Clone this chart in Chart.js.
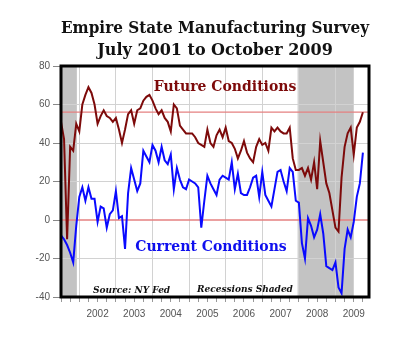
<!DOCTYPE html>
<html><head><meta charset="utf-8">
<script src="https://cdn.jsdelivr.net/npm/chart.js@4.4.0/dist/chart.umd.min.js"></script>
<style>html,body{margin:0;padding:0;background:#fff}</style>
</head><body>
<canvas id="c" width="400" height="352"></canvas>
<script>
// Monthly index: 0 = July 2001 ... 99 = October 2009
const titleLines = ['Empire State Manufacturing Survey', 'July 2001 to October 2009'];
const future = [
  51, 42, -10, 38, 36, 50, 46, 60, 65, 69, 66, 60,
  50, 54, 57, 54, 53, 51, 53, 47, 40, 47, 55, 57,
  50, 57, 58, 62, 64, 65, 62, 58, 55, 57, 53, 51,
  46, 60, 58, 49, 47, 45, 45, 45, 43, 40, 39, 38,
  47, 40, 38, 44, 47, 43, 48, 41, 40, 37, 32, 36,
  41, 35, 32, 30, 38, 42, 39, 40, 36, 48, 46, 48,
  46, 45, 45, 48, 32, 26, 26, 27, 23, 27, 21, 30,
  16, 41, 30, 19, 14, 5, -4, -6, 22, 38, 45, 48,
  34, 48, 51, 56
];
const current = [
  -8, -10, -13, -17, -22, -3, 12, 17, 10, 17, 11, 11,
  -1, 7, 6, -4, 3, 5, 15, 1, 2, -15, 14, 27,
  21, 15, 19, 36, 33, 30, 39, 36, 30, 38, 31, 29,
  34, 16, 27, 21, 17, 16, 21, 20, 19, 17, -4, 10,
  23, 19, 16, 13, 21, 23, 22, 21, 30, 16, 24, 14,
  13, 13, 17, 22, 23, 12, 25, 13, 10, 7, 16, 25,
  26, 20, 15, 27, 25, 10, 9, -12, -20, 1, -3, -9,
  -5, 3, -7, -24, -25, -26, -22, -35, -38, -15, -5, -9,
  -1, 12, 19, 35
];
const refLines = [0, 56];
const recessions = [[0, 5.2], [77.6, 96]]; // in month-index units
const yTicks = [-40, -20, 0, 20, 40, 60, 80];
const yearLabels = ['2002', '2003', '2004', '2005', '2006', '2007', '2008', '2009'];
const quarterTicks = [];
for (let m = 0; m < future.length; m += 3) quarterTicks.push(m);

const toXY = arr => arr.map((v, i) => ({x: i, y: v}));

const deco = {
  id: 'deco',
  beforeDraw(chart) {
    const {ctx, chartArea: a, scales: {x}} = chart;
    ctx.save();
    ctx.fillStyle = '#c3c3c3';
    recessions.forEach(([s, e]) => {
      const x0 = Math.max(a.left, x.getPixelForValue(s));
      const x1 = Math.min(a.right, x.getPixelForValue(e));
      ctx.fillRect(x0, a.top, x1 - x0, a.bottom - a.top);
    });
    ctx.restore();
  },
  afterDatasetsDraw(chart) {
    const {ctx, chartArea: a} = chart;
    ctx.save();
    ctx.strokeStyle = '#000';
    ctx.lineWidth = 3;
    ctx.strokeRect(a.left, a.top, a.right - a.left, a.bottom - a.top);
    ctx.textBaseline = 'middle';
    ctx.textAlign = 'center';
    ctx.font = 'bold 14px "DejaVu Serif"';
    ctx.fillStyle = '#7d0a0a';
    ctx.fillText('Future Conditions', 225, 87);
    ctx.fillStyle = '#0f0fee';
    ctx.fillText('Current Conditions', 211, 247);
    ctx.textAlign = 'left';
    ctx.font = 'italic bold 9px "DejaVu Serif"';
    ctx.fillStyle = '#111';
    ctx.fillText('Source: NY Fed', 93, 291);
    ctx.fillText('Recessions Shaded', 197, 290);
    ctx.restore();
  }
};

new Chart(document.getElementById('c'), {
  type: 'line',
  data: {
    datasets: [
      {label: 'Current Conditions', data: toXY(current), borderColor: '#0a0aff', borderWidth: 2, pointRadius: 0, order: 0},
      {label: 'Future Conditions', data: toXY(future), borderColor: '#7d0a0a', borderWidth: 2, pointRadius: 0, order: 1},
      ...refLines.map(v => ({label: 'ref' + v, data: [{x: 0, y: v}, {x: 101, y: v}], borderColor: '#e58080', borderWidth: 1.3, pointRadius: 0, order: 5}))
    ]
  },
  options: {
    responsive: false,
    animation: false,
    layout: {padding: {top: 0, right: 31, left: 0, bottom: 0}},
    plugins: {
      legend: {display: false},
      tooltip: {enabled: false},
      title: {
        display: true, fullSize: false, text: titleLines, color: '#111',
        font: {family: 'DejaVu Serif', size: 16, weight: 'bold', lineHeight: 1.375},
        padding: {top: 18, bottom: 4}
      }
    },
    scales: {
      x: {
        type: 'linear', min: 0, max: 101,
        afterBuildTicks: s => { s.ticks = quarterTicks.map(v => ({value: v})); },
        afterFit: s => { s.height = 55; },
        ticks: {
          autoSkip: false, maxRotation: 0, padding: 6, color: '#555',
          font: {family: 'Liberation Sans', size: 10},
          callback: v => (v % 12 === 0 && v > 0) ? yearLabels[v / 12 - 1] : ''
        },
        grid: {
          color: c => (c.tick && c.tick.value % 12 === 6) ? '#d2d2d2' : 'rgba(0,0,0,0)',
          tickColor: '#999', tickLength: 5, lineWidth: 1
        },
        border: {display: false}
      },
      y: {
        min: -40, max: 80,
        afterBuildTicks: s => { s.ticks = yTicks.map(v => ({value: v})); },
        afterFit: s => { s.width = 61; },
        ticks: {color: '#555', padding: 3, font: {family: 'Liberation Sans', size: 10}},
        grid: {
          color: c => (c.tick && [0, 80, -40].includes(c.tick.value)) ? 'rgba(0,0,0,0)' : '#d2d2d2',
          tickColor: '#888', tickLength: 8, lineWidth: 1
        },
        border: {display: false}
      }
    }
  },
  plugins: [deco]
});
</script>
</body></html>
